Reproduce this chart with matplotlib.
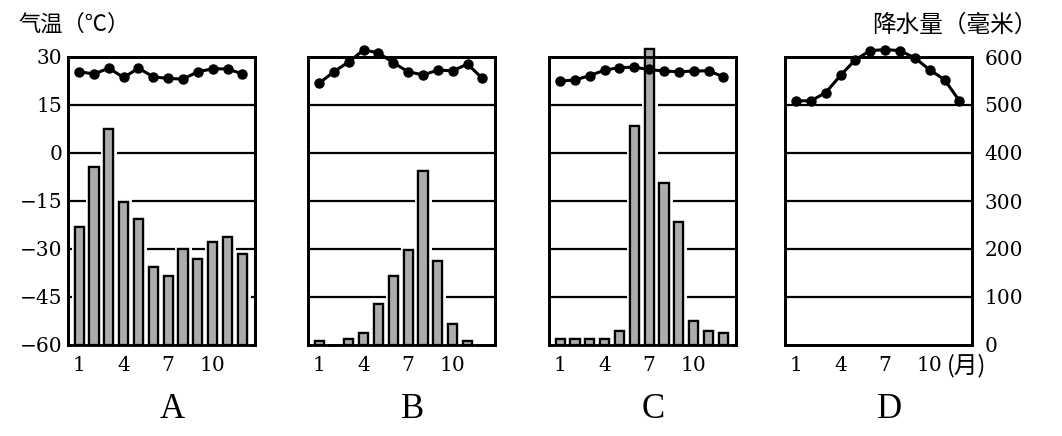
import numpy as np
import matplotlib.pyplot as plt
import matplotlib.patheffects as pe
from matplotlib.transforms import blended_transform_factory

months = np.arange(1, 13)
panels = ["A", "B", "C", "D"]

# monthly mean temperature (C)
temp_a = [25.4, 24.7, 26.5, 23.6, 26.5, 23.8, 23.3, 23.1, 25.4, 26.3, 26.3, 24.7]
temp_b = [21.8, 25.4, 28.5, 32.2, 31.3, 28.2, 25.4, 24.4, 25.9, 25.7, 27.8, 23.3]
temp_c = [22.5, 22.8, 24.2, 25.9, 26.7, 26.8, 26.1, 25.6, 25.4, 25.6, 25.7, 23.8]
temp_d = [16.3, 16.3, 18.9, 24.3, 29.2, 32.0, 32.3, 32.0, 29.7, 26.0, 22.9, 16.3]

# monthly precipitation (mm)
prec_a = [246, 371, 451, 297, 262, 163, 144, 199, 180, 214, 226, 190]
prec_b = [9, 0, 12, 26, 85, 144, 198, 362, 174, 44, 9, 0]
prec_c = [12, 12, 12, 12, 29, 456, 616, 338, 257, 50, 30, 24]
prec_d = [0, 0, 0, 0, 0, 0, 0, 0, 0, 0, 0, 0]

temps = [temp_a, temp_b, temp_c, temp_d]
precs = [prec_a, prec_b, prec_c, prec_d]

temp_ticks = [-60, -45, -30, -15, 0, 15, 30]
prec_ticks = [0, 100, 200, 300, 400, 500, 600]
month_ticks = [1, 4, 7, 10]

num_font = "DejaVu Serif"
serif = "Liberation Serif"
cjk = ["Noto Sans CJK SC", "DejaVu Sans"]

fig = plt.figure(figsize=(10.62, 4.36), dpi=100)
lefts = [68, 308, 549, 785]

for i, name in enumerate(panels):
    ax = fig.add_axes([lefts[i] / 1062, 1 - 345 / 436, 187 / 1062, 288 / 436])
    tw = ax.twinx()

    # precipitation bars on the main axis
    p = np.array(precs[i])
    keep = p > 0
    bars = ax.bar(months[keep], p[keep], width=0.62, color="#acacac",
                  edgecolor="black", linewidth=1.6, zorder=3, clip_on=False)
    for b in bars:
        b.set_path_effects([pe.withStroke(linewidth=5, foreground="white"), pe.Normal()])
    ax.set_ylim(0, 600)
    ax.set_yticks(prec_ticks)
    ax.set_xlim(0.25, 12.85)
    ax.set_xticks(month_ticks)
    ax.set_xticklabels([str(m) for m in month_ticks], fontfamily=num_font, fontsize=14.5)
    for y in prec_ticks[1:-1]:
        ax.axhline(y, color="black", lw=1.6, zorder=1)

    # temperature line on the twin
    tw.plot(months, temps[i], color="black", lw=2.2, marker="o", ms=6.5,
            clip_on=False, zorder=5)
    tw.set_ylim(-60, 30)
    tw.set_yticks(temp_ticks)

    ax.tick_params(length=0, pad=8)
    tw.tick_params(length=0)
    for a in (ax, tw):
        for s in a.spines.values():
            s.set_linewidth(2)

    if i == 0:
        tw.yaxis.set_ticks_position("left")
        tw.set_yticklabels([str(t).replace("-", "\u2212") for t in temp_ticks],
                           fontfamily=num_font, fontsize=14.5)
        tw.tick_params(axis="y", pad=4)
    else:
        tw.set_yticklabels([])
    if i == 3:
        ax.yaxis.tick_right()
        ax.set_yticklabels([str(t) for t in prec_ticks], fontfamily=num_font, fontsize=14.5)
        ax.tick_params(axis="y", pad=9)
    else:
        ax.set_yticklabels([])

    trans = blended_transform_factory(ax.transData, ax.transAxes)
    ax.text(7.3, -0.225, name, transform=trans, ha="center", va="center",
            fontfamily=serif, fontsize=25)

fig.text(18 / 1062, 1 - 24 / 436, "气温（℃）", family=cjk, fontsize=16,
         ha="left", va="center")
fig.text(1037 / 1062, 1 - 25 / 436, "降水量（毫米）", family=cjk, fontsize=17,
         ha="right", va="center")
fig.text(947 / 1062, 1 - 366 / 436, "(月)", family=cjk, fontsize=17,
         ha="left", va="center")

fig.savefig("out.png", dpi=100)
